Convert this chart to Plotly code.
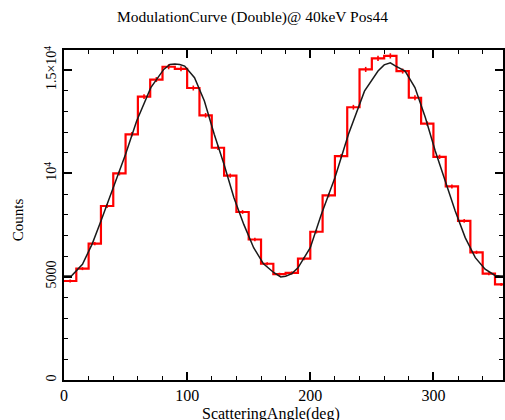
import numpy as np
import plotly.graph_objects as go

# ---- data ----
bin_edges = list(range(0, 370, 10))  # 0..360, 36 bins of 10 deg
counts = [4790, 5390, 6600, 8420, 10000, 11890, 13710, 14540, 15160, 15060,
          14130, 12810, 11240, 9890, 8130, 6800, 5625, 5120, 5180, 5870,
          7175, 8935, 10830, 13200, 15030, 15565, 15685, 14950, 13660, 12405,
          10800, 9370, 7700, 6180, 5145, 4630]

fit_angle = [0, 6, 15, 23, 30, 40, 50, 59, 70.5, 81, 86, 90, 94, 98, 106, 114,
             122, 130, 138, 146, 154, 162, 170.5, 176, 180, 185, 190, 200, 209,
             220, 231, 244, 255, 260, 265, 269, 277, 285, 293.5, 301.5, 309.6,
             317.7, 325.8, 334, 342, 350, 355, 360]
fit_value = [5030, 5030, 5600, 6600, 7690, 9300, 10920, 12530, 14150, 15030, 15270,
             15290, 15270, 15190, 14630, 13500, 11890, 10430, 8820, 7530, 6400,
             5620, 5190, 4990, 5020, 5150, 5430, 6400, 8020, 9790, 11890, 13980,
             14950, 15250, 15350, 15200, 14950, 14150, 12690, 11080, 9630, 8180,
             6890, 5920, 5360, 5060, 5030, 5030]

ytick_vals = [0, 5000, 10000, 15000]
ytick_text = ["0", "5000", "10<sup>4</sup>", "1.5\u00d710<sup>4</sup>"]
xtick_vals = [0, 100, 200, 300]

title_text = "ModulationCurve (Double)@ 40keV Pos44"
xtitle = "ScatteringAngle(deg)"
ytitle = "Counts"

FONT = "Liberation Serif"

bin_centers = [(bin_edges[i] + bin_edges[i + 1]) / 2 for i in range(len(counts))]
errors = [float(np.sqrt(c)) for c in counts]

fig = go.Figure()

# histogram outline (step)
fig.add_trace(go.Scatter(
    x=bin_edges, y=counts + [counts[-1]], mode="lines",
    line=dict(color="#ff0000", width=2.2, shape="hv"),
    showlegend=False, hoverinfo="skip"))

# error bars at bin centres
fig.add_trace(go.Scatter(
    x=bin_centers, y=counts, mode="markers",
    marker=dict(size=0.1, color="#ff0000"),
    error_y=dict(type="data", array=errors, visible=True,
                 color="#ff0000", thickness=1.6, width=0),
    showlegend=False, hoverinfo="skip"))

# fit curve
fig.add_trace(go.Scatter(
    x=fit_angle, y=fit_value, mode="lines",
    line=dict(color="#1a1a1a", width=1.5),
    showlegend=False, hoverinfo="skip"))

fig.update_layout(
    width=505, height=420,
    margin=dict(l=64, r=0, t=50, b=40),
    paper_bgcolor="white", plot_bgcolor="white",
    font=dict(family=FONT, color="black"),
    title=dict(text=title_text, x=0.5, xref="container", xanchor="center",
               y=1 - 17 / 420, yref="container", yanchor="middle",
               font=dict(family=FONT, size=15.5, color="black")),
    xaxis=dict(range=[0, 356.5], tickvals=xtick_vals, ticks="inside", ticklen=8,
               tickwidth=1.5, tickcolor="black", showline=True, linecolor="black",
               linewidth=2, mirror="ticks", showgrid=False, zeroline=False,
               tickfont=dict(family=FONT, size=16, color="black"),
               minor=dict(dtick=20, ticks="inside", ticklen=4, tickwidth=1.2,
                          tickcolor="black", showgrid=False)),
    yaxis=dict(range=[0, 15970], tickvals=ytick_vals, ticktext=ytick_text,
               ticks="inside", ticklen=8, tickwidth=1.5, tickcolor="black",
               showline=True, linecolor="black", linewidth=2, mirror="ticks",
               showgrid=False, zeroline=False, tickangle=-90,
               tickfont=dict(family=FONT, size=14, color="black"),
               minor=dict(dtick=1000, ticks="inside", ticklen=4, tickwidth=1.2,
                          tickcolor="black", showgrid=False)),
    annotations=[
        dict(text=xtitle, xref="paper", yref="paper", x=(272 - 64) / 441,
             y=-(403 - 380) / 330, xanchor="center", yanchor="top",
             showarrow=False, font=dict(family=FONT, size=16, color="black")),
        dict(text=ytitle, xref="paper", yref="paper", x=(18 - 64) / 441,
             y=(380 - 220) / 330, xanchor="center", yanchor="middle",
             textangle=-90, showarrow=False,
             font=dict(family=FONT, size=15, color="black")),
    ],
)

fig.write_html("out.html")
